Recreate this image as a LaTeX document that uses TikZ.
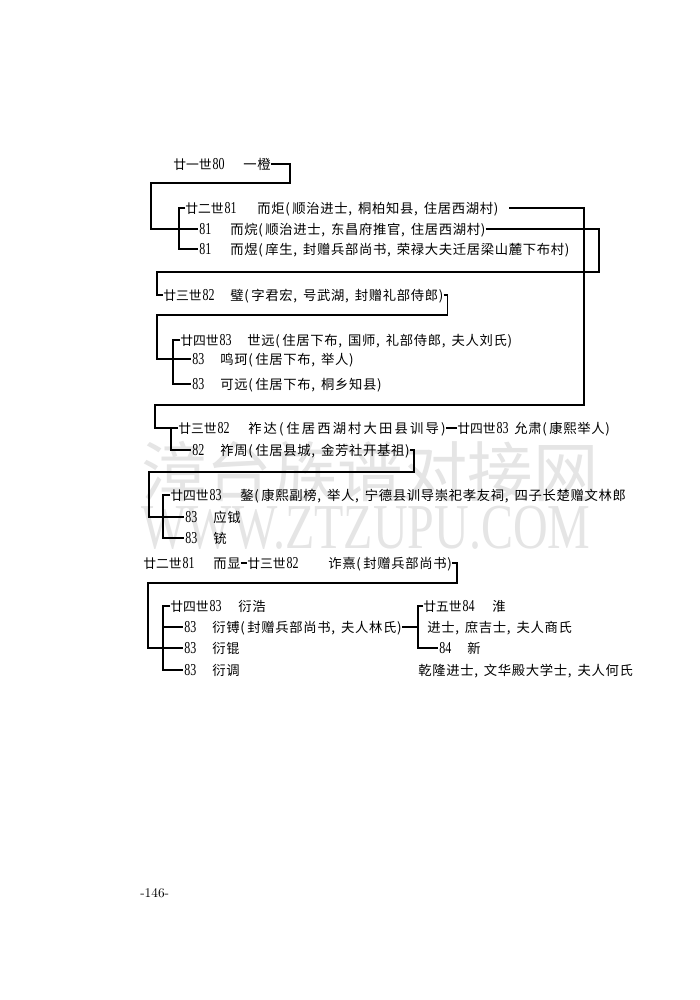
\documentclass[tikz,border=0pt]{standalone}
\usepackage{fontspec}
\newfontfamily\cjk[LetterSpace=5]{Noto Sans CJK SC}
\newfontfamily\cjkw[LetterSpace=16]{Noto Sans CJK SC}
\newfontfamily\cjkg{Noto Sans CJK SC}
\newfontfamily\wmserif{Liberation Serif}
\newfontfamily\dgfont{Liberation Serif}
\newcommand\gn[1]{\hspace{0.08em}\scalebox{0.72}[1]{\dgfont\fontsize{12.5}{13}\selectfont #1}}
\newcommand\lp{(\hspace{0.2em}}
\newcommand\cm{,\hspace{0.45em}}
\definecolor{wmgray}{gray}{0.9}
\begin{document}
\begin{tikzpicture}[x=0.75pt,y=-0.75pt,
  t/.style={anchor=west,inner sep=0pt,text height=0.88em,text depth=0.12em,font=\cjk\fontsize{10}{12}\selectfont},
  tg/.style={t,font=\cjkg\fontsize{9.6}{12}\selectfont},
  ln/.style={line width=1.1pt,line join=miter},
  wm/.style={inner sep=0pt,text=wmgray}]
\useasboundingbox (0,0) rectangle (700,1000);
\fill[white] (0,0) rectangle (700,1000);
% watermark
\node[wm] (wm1) at (370,472) {\cjkg\fontsize{49}{52}\selectfont 漳台族谱对接网};
\node[wm] (wm2) at (366,528) {\scalebox{0.75}[1]{\wmserif\fontsize{48}{50}\selectfont WWW.ZTZUPU.COM}};
% texts
\node[tg] (g80) at (173,164) {廿一世\gn{80}};
\node[t] (d80) at (243,164) {一橙};
\node[tg] (g81a) at (185,208) {廿二世\gn{81}};
\node[t] (d81a) at (257,208) {而炬\lp 顺治进士\cm 桐柏知县\cm 住居西湖村)};
\node[tg] (g81b) at (198,229) {\gn{81}};
\node[t] (d81b) at (230,229) {而烷\lp 顺治进士\cm 东昌府推官\cm 住居西湖村)};
\node[tg] (g81c) at (198,249) {\gn{81}};
\node[t] (d81c) at (230,249) {而煜\lp 庠生\cm 封赠兵部尚书\cm 荣禄大夫迁居梁山麓下布村)};
\node[tg] (g82a) at (163,295) {廿三世\gn{82}};
\node[t] (d82a) at (230,295) {璧\lp 字君宏\cm 号武湖\cm 封赠礼部侍郎)};
\node[tg] (g83a) at (180,340) {廿四世\gn{83}};
\node[t] (d83a) at (247,340) {世远\lp 住居下布\cm 国师\cm 礼部侍郎\cm 夫人刘氏)};
\node[tg] (g83b) at (191,359) {\gn{83}};
\node[t] (d83b) at (220,359) {鸣珂\lp 住居下布\cm 举人)};
\node[tg] (g83c) at (191,384) {\gn{83}};
\node[t] (d83c) at (220,384) {可远\lp 住居下布\cm 桐乡知县)};
\node[tg] (g82b) at (178,428) {廿三世\gn{82}};
\node[t,font=\cjkw\fontsize{10}{12}\selectfont] (d82b) at (248,428) {祚达\lp 住居西湖村大田县训导)};
\node[tg] (g83d) at (457,428) {廿四世\gn{83}};
\node[t] (d83d) at (514,428) {允肃\lp 康熙举人)};
\node[tg] (g82c) at (191,450) {\gn{82}};
\node[t] (d82c) at (220,450) {祚周\lp 住居县城\cm 金芳社开基祖)};
\node[tg] (g83e) at (170,495) {廿四世\gn{83}};
\node[t] (d83e) at (240,495) {鏊\lp 康熙副榜\cm 举人\cm 宁德县训导崇祀孝友祠\cm 四子长楚赠文林郎};
\node[tg] (g83f) at (184,517) {\gn{83}};
\node[t] (d83f) at (213,517) {应钺};
\node[tg] (g83g) at (184,538) {\gn{83}};
\node[t] (d83g) at (213,538) {铳};
\node[tg] (g81d) at (143,563) {廿二世\gn{81}};
\node[t] (d81d) at (213,563) {而显};
\node[tg] (g82d) at (247,563) {廿三世\gn{82}};
\node[t] (d82d) at (328,563) {诈熹\lp 封赠兵部尚书)};
\node[tg] (g83h) at (170,606) {廿四世\gn{83}};
\node[t] (d83h) at (238,606) {衍浩};
\node[tg] (g83i) at (183,627) {\gn{83}};
\node[t] (d83i) at (212,627) {衍镈\lp 封赠兵部尚书\cm 夫人林氏)};
\node[tg] (g83j) at (183,648) {\gn{83}};
\node[t] (d83j) at (212,648) {衍锟};
\node[tg] (g83k) at (183,670) {\gn{83}};
\node[t] (d83k) at (212,670) {衍调};
\node[tg] (g84a) at (423,606) {廿五世\gn{84}};
\node[t] (d84a) at (492,606) {淮};
\node[t] (n84a) at (427,627) {进士\cm 庶吉士\cm 夫人商氏};
\node[tg] (g84b) at (438,648) {\gn{84}};
\node[t] (d84b) at (467,648) {新};
\node[t] (n84b) at (418,670) {乾隆进士\cm 文华殿大学士\cm 夫人何氏};
\node[anchor=west,inner sep=0pt,font=\fontsize{10}{12}\selectfont] (pg) at (140,893) {-146-};
% connectors
\draw[ln] (d80.east) -- (290,164) -- (290,183) -- (151,183) -- (151,229) -- (g81b.west);
\draw[ln] (g81a.west) -- (179,208) -- (179,249) -- (g81c.west);
\draw[ln] ([xshift=8pt]d81a.east) -- (584,208) -- (584,405) -- (155,405) -- (155,428) -- (g82b.west);
\draw[ln] (d81b.east) -- (599,229) -- (599,272) -- (157,272) -- (157,295) -- (g82a.west);
\draw[ln] (d82a.east) -- ++(4,0) |- (157,315) -- (157,359) -- (g83b.west);
\draw[ln] (g83a.west) -- (173,340) -- (173,384) -- (g83c.west);
\draw[ln] (171,428) -- (171,450) -- (g82c.west);
\draw[ln] (d82b.east) -- (g83d.west);
\draw[ln] (d82c.east) -- ++(4,0) |- (149,472) -- (149,517) -- (g83f.west);
\draw[ln] (g83e.west) -- (163,495) -- (163,538) -- (g83g.west);
\draw[ln] (d81d.east) -- (g82d.west);
\draw[ln] (d82d.east) -- ++(5,0) |- (148,583) -- (148,648) -- (g83j.west);
\draw[ln] (g83h.west) -- (163,606) -- (163,670) -- (g83k.west);
\draw[ln] (163,627) -- (g83i.west);
\draw[ln] (d83i.east) -- (418,627);
\draw[ln] (g84a.west) -- (418,606) -- (418,648) -- (g84b.west);
\end{tikzpicture}
\end{document}
